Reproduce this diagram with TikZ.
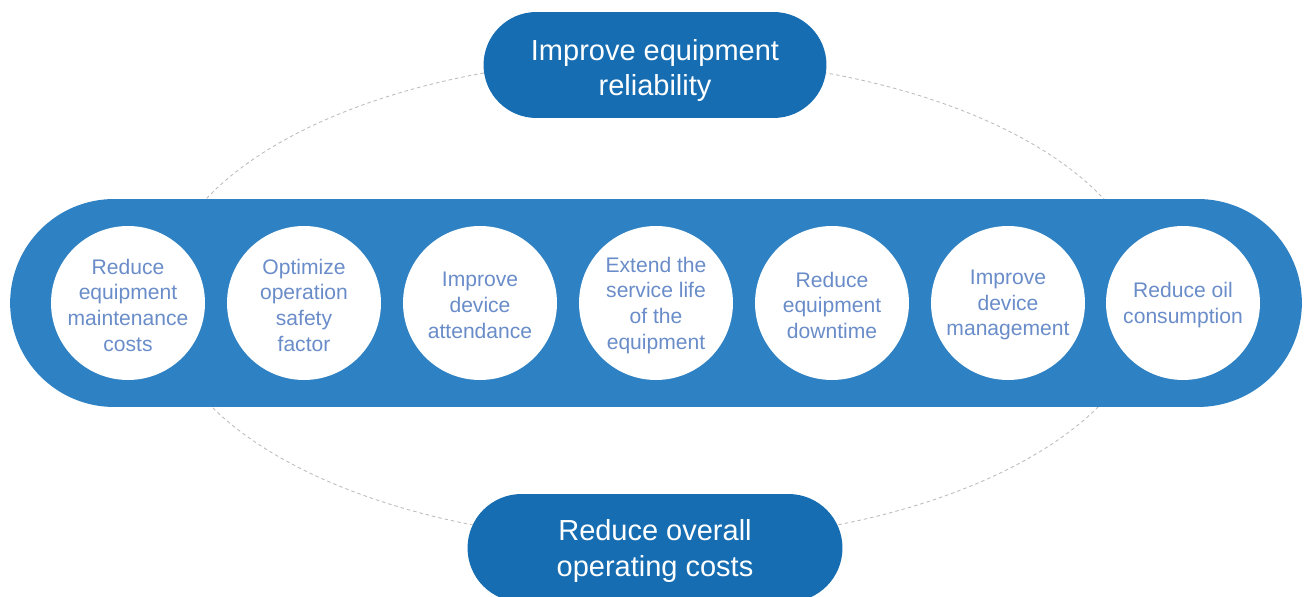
\documentclass[tikz,border=0pt]{standalone}
\usepackage{fontspec}
\setmainfont{Liberation Sans}
\usetikzlibrary{shapes.misc}
\definecolor{bandblue}{HTML}{2E81C3}
\definecolor{pillblue}{HTML}{166DB2}
\definecolor{goaltext}{HTML}{6A8DC9}
\definecolor{orbitgray}{HTML}{BDBDBD}
\tikzset{
  pill/.style={rounded rectangle, fill=pillblue, text=white, align=center,
    inner sep=0pt, font=\fontsize{16.5}{19.8}\selectfont},
  goal/.style={circle, fill=white, minimum size=3.08cm, inner sep=0pt,
    label={[text=goaltext, align=center, font=\fontsize{12}{14.6}\selectfont,
      yshift=-0.045cm]center:{#1}}},
}
\begin{document}
\begin{tikzpicture}[x=0.02cm, y=-0.02cm]
    % Page frame
    \clip (0,0) rectangle (1308,597);
    
    % Dashed orbit behind everything
    \draw[orbitgray, line width=0.5pt, dash pattern=on 2pt off 1.7pt]
      (655,300) ellipse [x radius=9.88cm, y radius=4.84cm];
    
    % Blue band
    \node[rounded rectangle, fill=bandblue, minimum width=25.84cm,
      minimum height=4.16cm, inner sep=0pt] (band) at (656,303) {};
    
    % Goals - white circles
    \node[goal={Reduce\\equipment\\maintenance\\costs}] (g1) at (128,303) {};
    \node[goal={Optimize\\operation\\safety\\factor}] (g2) at (304,303) {};
    \node[goal={Improve\\device\\attendance}] (g3) at (480,303) {};
    \node[goal={Extend the\\service life\\of the\\equipment}] (g4) at (656,303) {};
    \node[goal={Reduce\\equipment\\downtime}] (g5) at (832,303) {};
    \node[goal={Improve\\device\\management}] (g6) at (1008,303) {};
    \node[goal={Reduce oil\\consumption}] (g7) at (1183,303) {};
    
    % Top and bottom pills
    \node[pill, minimum width=6.86cm, minimum height=2.12cm] (reliability) at (655,65)
      {\rule{0pt}{18pt}Improve equipment\\reliability};
    \node[pill, minimum width=7.5cm, minimum height=2.16cm,
      font=\fontsize{16.5}{20.5}\selectfont] (costs) at (655,548)
      {\rule{0pt}{15.5pt}Reduce overall\\operating costs};
    
\end{tikzpicture}
\end{document}
